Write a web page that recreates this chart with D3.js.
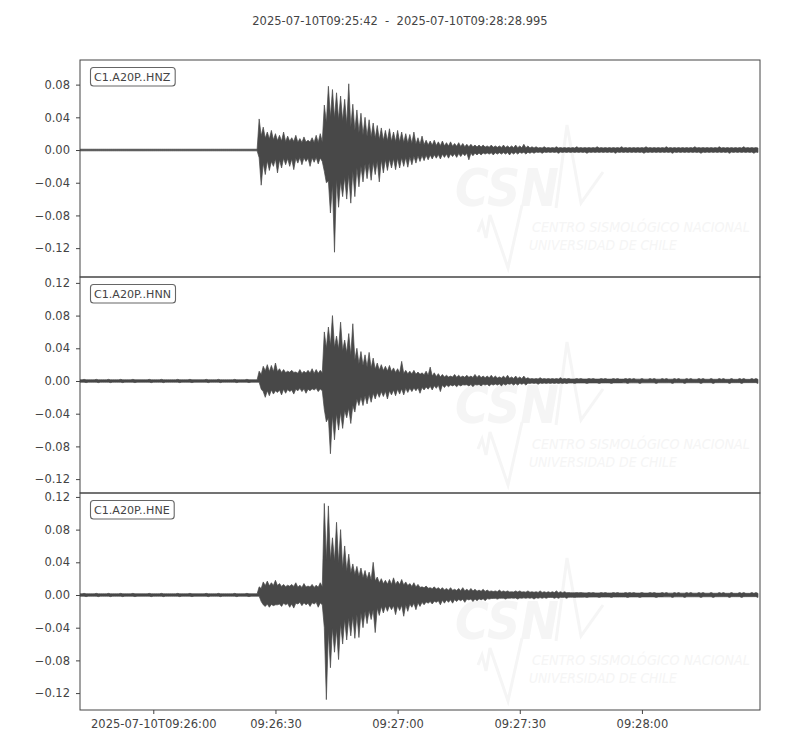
<!DOCTYPE html>
<html><head><meta charset="utf-8">
<script src="https://cdn.jsdelivr.net/npm/d3@7"></script>
<style>
body{margin:0;background:#fff}
svg{display:block}
text{font-family:"DejaVu Sans",sans-serif}
</style>
</head><body><svg id="chart" width="800" height="750"></svg>
<script>
// ---------------- data ----------------
const startTime = "2025-07-10T09:25:42.000Z";
const endTime   = "2025-07-10T09:28:28.995Z";
const titleText = "2025-07-10T09:25:42  -  2025-07-10T09:28:28.995";
const channels  = ["C1.A20P..HNZ", "C1.A20P..HNN", "C1.A20P..HNE"];

const xTickTimes  = ["2025-07-10T09:26:00Z", "2025-07-10T09:26:30Z", "2025-07-10T09:27:00Z", "2025-07-10T09:27:30Z", "2025-07-10T09:28:00Z"];
const xTickLabels = ["2025-07-10T09:26:00", "09:26:30", "09:27:00", "09:27:30", "09:28:00"];

const yTicksHNZ = [0.08, 0.04, 0.00, -0.04, -0.08, -0.12];
const yTicksHNN = [0.12, 0.08, 0.04, 0.00, -0.04, -0.08, -0.12];
const yTicksHNE = [0.12, 0.08, 0.04, 0.00, -0.04, -0.08, -0.12];

const yLimitsHNZ = [-0.1553, 0.1101];
const yLimitsHNN = [-0.1370, 0.1272];
const yLimitsHNE = [-0.1407, 0.1248];

// Per-second peak excursions (max / min) of each trace, in units of 1e-3.
const hnzMax = [
  1,1,1,1,1,1,1,1,1,1,  1,1,1,1,1,1,1,1,1,1,  1,1,1,1,1,1,1,1,1,1,  1,1,1,1,1,1,1,1,1,1,
  1,1,1,1,38,28,22,24,20,18,  22,17,15,18,14,16,12,15,18,20,
  55,78,74,70,66,62,81,56,49,45,  40,37,33,30,27,24,26,22,24,22,
  20,19,22,15,17,12,11,12,10,11,  9,10,8,9,8,7,7,6,6,6,
  5,6,5,5,6,5,5,6,5,7,  5,4,4,3,4,3,3,4,3,3,
  3,3,4,3,3,3,3,4,3,3,  3,3,3,4,3,3,3,3,3,4,
  3,3,3,3,4,3,3,3,3,3,  3,4,3,3,3,3,3,4,3,3,
  3,3,3,4,3,3,3
];
const hnzMin = [
  -1,-1,-1,-1,-1,-1,-1,-1,-1,-1,  -1,-1,-1,-1,-1,-1,-1,-1,-1,-1,  -1,-1,-1,-1,-1,-1,-1,-1,-1,-1,  -1,-1,-1,-1,-1,-1,-1,-1,-1,-1,
  -1,-1,-1,-1,-43,-30,-25,-20,-28,-22,  -18,-20,-24,-16,-18,-14,-20,-15,-17,-14,
  -40,-77,-125,-70,-57,-60,-65,-57,-45,-39,  -35,-37,-30,-39,-28,-25,-22,-24,-22,-20,
  -21,-18,-16,-14,-13,-12,-11,-10,-11,-9,  -10,-8,-9,-8,-7,-12,-7,-6,-6,-5,
  -5,-6,-5,-5,-5,-6,-5,-5,-4,-5,  -4,-4,-3,-4,-3,-3,-3,-4,-3,-3,
  -3,-3,-3,-3,-4,-3,-3,-3,-3,-3,  -3,-4,-3,-3,-3,-3,-3,-3,-4,-3,
  -3,-3,-3,-3,-3,-4,-3,-3,-3,-3,  -3,-3,-4,-3,-3,-3,-3,-3,-3,-4,
  -3,-3,-3,-3,-3,-4,-3
];
const hnnMax = [
  1,2,1,1,2,1,1,2,1,1,  2,1,1,2,1,1,1,2,1,1,  2,1,1,1,2,1,1,2,1,1,  1,2,1,1,2,1,1,1,2,1,
  1,2,1,1,12,18,20,19,22,15,  14,12,13,11,14,12,13,15,14,13,
  60,66,80,55,72,50,58,70,40,36,  32,35,28,22,20,18,19,16,15,24,
  13,12,13,11,10,12,17,10,9,8,  7,6,8,7,6,7,6,8,7,6,
  6,7,6,5,6,7,5,6,5,6,  4,3,3,4,3,3,3,3,4,3,
  3,2,3,3,2,3,3,2,3,3,  2,3,3,2,3,3,3,2,3,2,
  3,3,2,3,3,2,3,3,2,3,  3,2,3,3,2,3,2,3,3,2,
  3,2,3,3,2,3,3
];
const hnnMin = [
  -1,-2,-1,-1,-2,-1,-1,-2,-1,-1,  -2,-1,-1,-2,-1,-1,-1,-2,-1,-1,  -2,-1,-1,-1,-2,-1,-1,-2,-1,-1,  -1,-2,-1,-1,-2,-1,-1,-1,-2,-1,
  -1,-2,-1,-1,-10,-20,-18,-16,-14,-17,  -15,-13,-16,-12,-13,-15,-12,-11,-13,-12,
  -50,-89,-72,-60,-58,-45,-52,-38,-30,-30,  -28,-26,-22,-20,-19,-22,-17,-18,-16,-17,
  -14,-13,-12,-15,-11,-10,-11,-9,-13,-8,  -7,-6,-7,-6,-5,-6,-7,-5,-6,-5,
  -6,-5,-5,-6,-5,-4,-5,-5,-4,-5,  -3,-3,-4,-3,-3,-3,-3,-3,-3,-3,
  -2,-3,-2,-2,-3,-2,-2,-3,-2,-2,  -3,-2,-2,-2,-3,-2,-2,-3,-2,-2,
  -2,-3,-2,-2,-2,-3,-2,-2,-3,-2,  -2,-2,-3,-2,-2,-3,-2,-2,-2,-3,
  -2,-2,-3,-2,-2,-2,-3
];
const hneMax = [
  1,2,1,1,2,1,1,2,1,1,  2,1,1,2,1,1,1,2,1,1,  2,1,1,1,2,1,1,2,1,1,  1,2,1,1,2,1,1,1,2,1,
  1,2,1,1,10,16,17,15,18,14,  13,12,13,15,12,14,11,13,12,15,
  112,109,70,89,80,60,50,38,35,33,  30,28,40,22,20,18,19,21,17,19,
  16,14,15,13,10,11,9,10,9,9,  8,9,7,8,9,7,8,7,6,7,
  6,5,5,6,5,5,4,5,5,4,  5,4,4,5,4,4,4,5,4,4,
  3,2,3,3,2,3,3,2,3,3,  2,3,3,2,3,3,3,2,3,2,
  3,3,2,3,3,2,3,3,2,3,  3,2,3,3,2,3,2,3,3,2,
  3,2,3,3,2,3,3
];
const hneMin = [
  -1,-2,-1,-1,-2,-1,-1,-2,-1,-1,  -2,-1,-1,-2,-1,-1,-1,-2,-1,-1,  -2,-1,-1,-1,-2,-1,-1,-2,-1,-1,  -1,-2,-1,-1,-2,-1,-1,-1,-2,-1,
  -1,-2,-1,-1,-8,-14,-15,-13,-12,-14,  -12,-15,-16,-11,-13,-12,-14,-11,-15,-12,
  -128,-89,-70,-79,-60,-55,-50,-53,-52,-40,  -35,-30,-46,-25,-22,-20,-18,-24,-19,-26,
  -20,-15,-18,-14,-12,-10,-11,-9,-12,-10,  -9,-10,-8,-7,-9,-6,-8,-7,-6,-7,
  -5,-4,-5,-4,-5,-4,-4,-5,-4,-4,  -4,-5,-4,-4,-4,-3,-4,-4,-3,-4,
  -2,-3,-2,-2,-3,-2,-2,-3,-2,-2,  -3,-2,-2,-2,-3,-2,-2,-3,-2,-2,
  -2,-3,-2,-2,-2,-3,-2,-2,-3,-2,  -2,-2,-3,-2,-2,-3,-2,-2,-2,-3,
  -2,-2,-3,-2,-2,-2,-3
];

// Half-width of the densely filled core of each trace, at breakpoints in seconds, 1e-3 units.
const hnzCoreT = [0, 43.8, 44.2, 45, 46, 47, 48, 49, 50, 52, 54, 56, 58, 59.6,
                  60.1, 61, 62, 63, 64, 65, 66, 67, 68, 69, 70, 72, 74, 76, 78, 80, 83, 86, 90, 95, 100, 111, 167];
const hnzCoreV = [1, 1, 18, 16, 13, 14, 11, 12, 10, 11, 9, 10, 9, 10,
                  30, 38, 42, 36, 38, 33, 30, 26, 22, 20, 17, 15, 12, 11, 10, 9, 7, 6, 5, 4, 3.5, 2.5, 2.5];
const hnnCoreT = [0, 44.2, 44.6, 45, 46, 47, 48, 50, 52, 54, 56, 58, 59.5,
                  60, 61, 62, 63, 64, 65, 66, 67, 68, 69, 70, 72, 74, 76, 78, 80, 84, 88, 95, 100, 111, 167];
const hnnCoreV = [1.5, 1.5, 10, 13, 12, 11, 12, 10, 11, 9, 10, 9, 10,
                  35, 45, 42, 40, 38, 36, 33, 30, 22, 20, 18, 15, 13, 12, 10, 9, 8, 5, 4.5, 4, 2.5, 2];
const hneCoreT = [0, 44.2, 44.6, 45, 46, 48, 50, 52, 54, 56, 58, 59.5,
                  60, 61, 62, 63, 64, 65, 66, 67, 68, 69, 70, 72, 74, 76, 78, 80, 82, 86, 90, 95, 103, 115, 126, 167];
const hneCoreV = [1.5, 1.5, 10, 12, 11, 12, 10, 11, 9, 10, 9, 10,
                  40, 45, 40, 42, 35, 30, 28, 26, 24, 22, 20, 18, 14, 13, 13, 12, 10, 8, 6, 5, 4, 3, 2.5, 2];

const watermarkTitle = "CSN";
const watermarkLine1 = "CENTRO SISMOLÓGICO NACIONAL";
const watermarkLine2 = "UNIVERSIDAD DE CHILE";

// ---------------- layout ----------------
const W = 800, H = 750;
const left = 80, right = 760;
const panelTops = [60, 277, 493];
const panelBottoms = [277, 493, 710];
const ink = "#444444";
const traceColor = "#484848";
const wmColor = "#f5f5f5";

const svg = d3.select("#chart");
svg.append("rect").attr("width", W).attr("height", H).attr("fill", "#fff");

const t0 = new Date(startTime);
const at = s => new Date(t0.getTime() + s * 1000);
const x = d3.scaleUtc().domain([t0, new Date(endTime)]).range([left, right]);

svg.append("text")
  .attr("x", 400).attr("y", 25)
  .attr("text-anchor", "middle")
  .attr("font-size", "11.5px").attr("fill", ink)
  .style("white-space", "pre")
  .text(titleText);

const traces = [
  {name: channels[0], max: hnzMax, min: hnzMin, coreT: hnzCoreT, coreV: hnzCoreV, ticks: yTicksHNZ, lim: yLimitsHNZ},
  {name: channels[1], max: hnnMax, min: hnnMin, coreT: hnnCoreT, coreV: hnnCoreV, ticks: yTicksHNN, lim: yLimitsHNN},
  {name: channels[2], max: hneMax, min: hneMin, coreT: hneCoreT, coreV: hneCoreV, ticks: yTicksHNE, lim: yLimitsHNE}
];

const defs = svg.append("defs");
const fmt = d3.format(".2f");

function fitText(sel, targetWidth, baseSize) {
  sel.attr("font-size", baseSize + "px");
  const w = sel.node().getComputedTextLength();
  sel.attr("font-size", (baseSize * targetWidth / w).toFixed(2) + "px");
}

traces.forEach((tr, k) => {
  const top = panelTops[k], bot = panelBottoms[k];
  const y = d3.scaleLinear().domain(tr.lim).range([bot, top]);
  const g = svg.append("g");

  defs.append("clipPath").attr("id", "clip" + k)
    .append("rect").attr("x", left).attr("y", top).attr("width", right - left).attr("height", bot - top);

  // faint watermark
  const wm = g.append("g").attr("fill", wmColor).attr("stroke", "none");
  const csn = wm.append("text").attr("x", 455).attr("y", top + 146)
    .attr("font-weight", "bold").attr("font-style", "italic").attr("font-stretch", "condensed").text(watermarkTitle);
  fitText(csn, 104, 60);
  wm.append("polyline")
    .attr("points", [[478, top + 172], [482, top + 162], [486, top + 178], [490, top + 155], [508, top + 208], [522, top + 145]].join(" "))
    .attr("fill", "none").attr("stroke", wmColor).attr("stroke-width", 3);
  wm.append("polyline")
    .attr("points", [[556, top + 148], [567, top + 65], [581, top + 143], [603, top + 112]].join(" "))
    .attr("fill", "none").attr("stroke", wmColor).attr("stroke-width", 3);
  const w1 = wm.append("text").attr("x", 532).attr("y", top + 172)
    .attr("font-style", "italic").attr("font-stretch", "condensed").text(watermarkLine1);
  fitText(w1, 218, 16);
  const w2 = wm.append("text").attr("x", 529).attr("y", top + 190)
    .attr("font-style", "italic").attr("font-stretch", "condensed").text(watermarkLine2);
  fitText(w2, 148, 16);

  const wave = g.append("g").attr("clip-path", `url(#clip${k})`);

  // core half-width read along the breakpoints
  const coreAt = d3.scaleLinear().domain(tr.coreT).range(tr.coreV).clamp(true);

  // filled saw-tooth envelope: maxima at whole seconds, minima at half seconds,
  // falling back to the dense core in between
  const env = [];
  tr.max.forEach((v, i) => {
    env.push({t: at(i), hi: Math.max(v, coreAt(i)) / 1000, lo: -coreAt(i) / 1000});
    env.push({t: at(i + 0.5), hi: coreAt(i + 0.5) / 1000, lo: Math.min(tr.min[i], -coreAt(i + 0.5)) / 1000});
  });
  wave.append("path")
    .attr("d", d3.area().x(d => x(d.t)).y0(d => y(d.lo)).y1(d => y(d.hi))(env))
    .attr("fill", traceColor).attr("stroke", traceColor).attr("stroke-width", 0.7)
    .attr("stroke-linejoin", "miter").attr("stroke-miterlimit", 2);

  // frame
  g.append("rect").attr("x", left).attr("y", top).attr("width", right - left).attr("height", bot - top)
    .attr("fill", "none").attr("stroke", ink).attr("stroke-width", 1);

  // y axis
  const ya = g.append("g").attr("transform", `translate(${left},0)`)
    .call(d3.axisLeft(y).tickValues(tr.ticks).tickFormat(fmt).tickSize(4).tickPadding(6));
  ya.select(".domain").remove();
  ya.selectAll("line").attr("stroke", ink);
  ya.selectAll("text").attr("font-size", "11.5px").attr("fill", ink).attr("font-family", "DejaVu Sans");

  // label box
  const lbl = g.append("g");
  const txt = lbl.append("text").attr("x", 94).attr("y", top + 20.5)
    .attr("font-size", "11.1px").attr("fill", ink).text(tr.name);
  const bb = txt.node().getBBox();
  lbl.insert("rect", "text")
    .attr("x", 90.5).attr("y", top + 7.5).attr("width", bb.width + 8).attr("height", 18.5)
    .attr("rx", 3).attr("ry", 3)
    .attr("fill", "#fff").attr("stroke", "#666").attr("stroke-width", 1.1);

  if (k === 2) {
    const xa = g.append("g").attr("transform", `translate(0,${bot})`)
      .call(d3.axisBottom(x).tickValues(xTickTimes.map(s => new Date(s)))
        .tickFormat((d, i) => xTickLabels[i]).tickSize(4).tickPadding(6));
    xa.select(".domain").remove();
    xa.selectAll("line").attr("stroke", ink);
    xa.selectAll("text").attr("font-size", "11.5px").attr("fill", ink).attr("font-family", "DejaVu Sans");
  }
});
</script>
</body></html>
